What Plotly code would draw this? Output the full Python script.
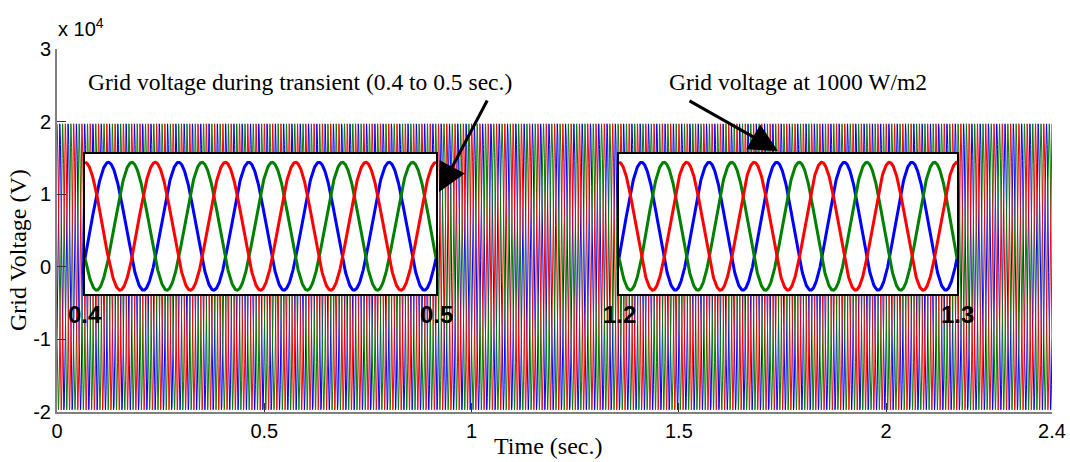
import numpy as np
import plotly.graph_objects as go

# ---- data ----
phase_names = ["Va", "Vb", "Vc"]
phase_colors = ["#0000ff", "#008000", "#ff0000"]   # blue, green, red (draw order)
phase_shift_deg = [-120.0, 120.0, 0.0]              # red peaks at t = 0
amplitude_v = 19700.0                               # peak grid voltage (V)
freq_hz = 50.0
t_end = 2.4
samples_per_cycle = 100

x_tick_vals = [0, 0.5, 1, 1.5, 2, 2.4]
x_tick_text = ["0", "0.5", "1", "1.5", "2", "2.4"]
y_tick_vals = [-2e4, -1e4, 0, 1e4, 2e4, 3e4]
y_tick_text = ["-2", "-1", "0", "1", "2", "3"]

inset_windows = [(0.4, 0.5), (1.2, 1.3)]
inset_labels = [["0.4", "0.5"], ["1.2", "1.3"]]

note_texts = ["Grid voltage during transient (0.4 to 0.5 sec.)",
              "Grid voltage at 1000 W/m2"]

# ---- layout geometry (pixels of the 1070x462 page) ----
W, H = 1070, 462
L, R, T, B = 57, 1052, 49, 412
inset_px = [(85, 436, 154, 294), (619, 957, 154, 294)]


def px_x(p):
    return (p - L) / (R - L)


def px_y(p):
    return (B - p) / (B - T)


t = np.linspace(0, t_end, int(t_end * freq_hz * samples_per_cycle) + 1)

fig = go.Figure()

# main traces
for name, col, ph in zip(phase_names, phase_colors, phase_shift_deg):
    v = amplitude_v * np.cos(2 * np.pi * freq_hz * t + np.deg2rad(ph))
    fig.add_trace(go.Scatter(x=t, y=v, mode="lines", name=name,
                             line=dict(color=col, width=1.0),
                             xaxis="x", yaxis="y", showlegend=False,
                             hoverinfo="skip"))

y_in_lo, y_in_hi = -1.06 * amplitude_v, 1.13 * amplitude_v

layout_extra = {}
annotations = []
for k, ((t0, t1), (x0p, x1p, y0p, y1p), labs) in enumerate(
        zip(inset_windows, inset_px, inset_labels)):
    ax_id = k + 2
    xa, ya = f"x{ax_id}", f"y{ax_id}"
    # white background of the inset
    fig.add_trace(go.Scatter(x=[t0, t1, t1, t0, t0],
                             y=[y_in_lo, y_in_lo, y_in_hi, y_in_hi, y_in_lo],
                             fill="toself", fillcolor="white", mode="lines",
                             line=dict(width=0, color="white"),
                             xaxis=xa, yaxis=ya, showlegend=False,
                             hoverinfo="skip"))
    ti = np.linspace(t0, t1, 1001)
    for name, col, ph in zip(phase_names, phase_colors, phase_shift_deg):
        v = amplitude_v * np.cos(2 * np.pi * freq_hz * ti + np.deg2rad(ph))
        fig.add_trace(go.Scatter(x=ti, y=v, mode="lines", name=name,
                                 line=dict(color=col, width=3),
                                 xaxis=xa, yaxis=ya, showlegend=False,
                                 hoverinfo="skip"))
    layout_extra[f"xaxis{ax_id}"] = dict(
        domain=[px_x(x0p), px_x(x1p)], anchor=ya, range=[t0, t1],
        tickvals=[t0, t1], showticklabels=False,
        ticks="inside", ticklen=3, tickcolor="black", automargin=False,
        showline=True, mirror=True, linecolor="black", linewidth=2,
        showgrid=False, zeroline=False)
    layout_extra[f"yaxis{ax_id}"] = dict(
        domain=[px_y(y1p), px_y(y0p)], anchor=xa, range=[y_in_lo, y_in_hi],
        showticklabels=False, ticks="", automargin=False,
        showline=True, mirror=True, linecolor="black", linewidth=2,
        showgrid=False, zeroline=False)
    for tv, lab in zip((t0, t1), labs):
        annotations.append(dict(
            text=f"<b>{lab}</b>", xref=xa, yref="paper", x=tv, y=px_y(314),
            xanchor="center", yanchor="middle", showarrow=False,
            font=dict(family="Liberation Sans, Arial", size=24,
                      color="black")))

tick_font = dict(family="Liberation Sans, Arial", size=20, color="black")
serif = "Liberation Serif, Times New Roman"

annotations += [
    dict(text="x 10<sup>4</sup>", xref="paper", yref="paper",
         x=px_x(56), y=px_y(27), xanchor="left", yanchor="middle",
         showarrow=False, font=tick_font),
    dict(text="Grid Voltage (V)", xref="paper", yref="paper",
         x=px_x(18), y=px_y(250), xanchor="center", yanchor="middle",
         textangle=-90, showarrow=False,
         font=dict(family=serif, size=24, color="black")),
    dict(text="Time (sec.)", xref="paper", yref="paper",
         x=px_x(548), y=px_y(446), xanchor="center", yanchor="middle",
         showarrow=False, font=dict(family=serif, size=24, color="black")),
    dict(text=note_texts[0], xref="paper", yref="paper",
         x=px_x(86), y=px_y(82), xanchor="left", yanchor="middle",
         showarrow=False, font=dict(family=serif, size=23.5, color="black")),
    dict(text=note_texts[1], xref="paper", yref="paper",
         x=px_x(667), y=px_y(82), xanchor="left", yanchor="middle",
         showarrow=False, font=dict(family=serif, size=23.5, color="black")),
]
# arrows: (tail px, head px)
for (tx, ty), (hx, hy) in [((488, 99), (439, 192)), ((688, 100), (778, 151))]:
    annotations.append(dict(text="", xref="paper", yref="paper",
                            x=px_x(hx), y=px_y(hy), ax=tx - hx, ay=ty - hy,
                            showarrow=True, arrowhead=2, arrowsize=1.9,
                            arrowwidth=3, arrowcolor="black", standoff=0))

fig.update_layout(
    width=W, height=H, autosize=False,
    margin=dict(l=L, r=W - R, t=T, b=H - B, pad=0, autoexpand=False),
    paper_bgcolor="white", plot_bgcolor="white",
    showlegend=False,
    xaxis=dict(domain=[0, 1], anchor="y", range=[0, t_end],
               tickvals=x_tick_vals, ticktext=x_tick_text, tickfont=tick_font,
               ticks="inside", ticklen=9, tickcolor="#333", tickwidth=1,
               showline=True, linecolor="#808080", linewidth=2,
               showgrid=False, zeroline=False, automargin=False),
    yaxis=dict(domain=[0, 1], anchor="x", range=[-2e4, 3e4],
               tickvals=y_tick_vals, ticktext=y_tick_text, tickfont=tick_font,
               ticks="inside", ticklen=9, tickcolor="#333", tickwidth=1,
               showline=True, linecolor="#808080", linewidth=2,
               showgrid=False, zeroline=False, automargin=False),
    annotations=annotations,
    **layout_extra,
)

fig.write_html("out.html")
